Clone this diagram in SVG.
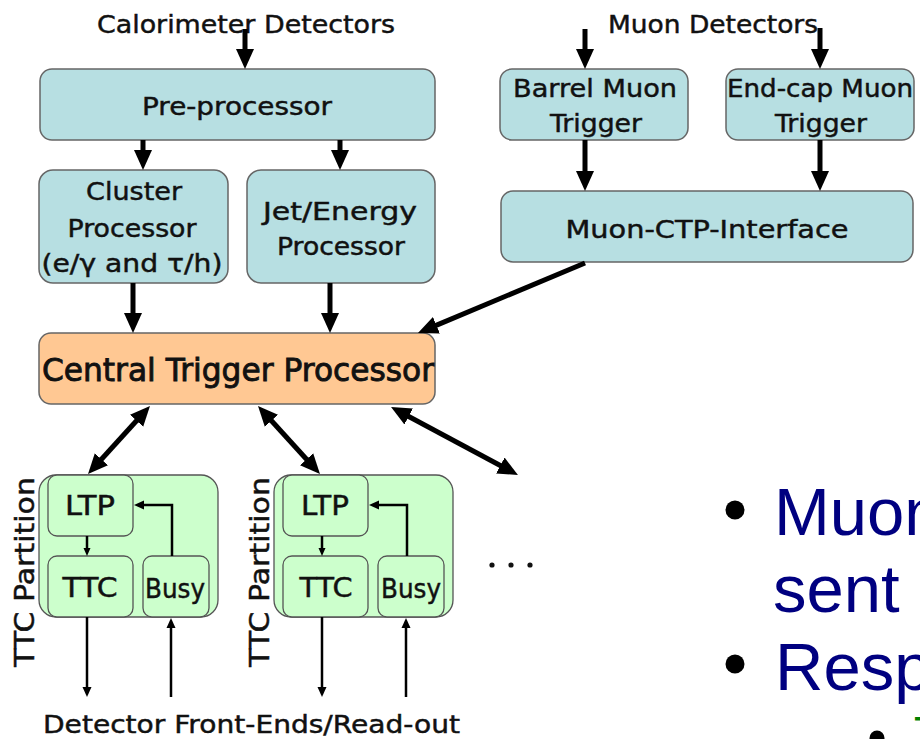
<svg xmlns="http://www.w3.org/2000/svg" width="920" height="739" viewBox="0 0 920 739">
  <style>
    .lbl { font-family: "DejaVu Sans", "Liberation Sans", sans-serif; font-size: 24px; fill: #111; stroke: #111; stroke-width: 0.45px; text-anchor: middle; }
    .big { font-size: 32px; stroke-width: 0.9px; }
    .ttc { font-size: 26px; }
    .blue { fill: #b7dfe2; stroke: #666; stroke-width: 1.5; }
    .orange { fill: #ffc893; stroke: #666; stroke-width: 1.5; }
    .green { fill: #ccffcc; stroke: #555; stroke-width: 1.3; }
    .thick { stroke: #000; stroke-width: 5; fill: none; }
    .thin { stroke: #000; stroke-width: 2.5; fill: none; }
    .bullet { font-family: "Liberation Sans", Arial, sans-serif; font-size: 67px; fill: #000080; }
  </style>
  <defs>
    <marker id="headBig" markerUnits="userSpaceOnUse" markerWidth="20" markerHeight="20" viewBox="0 0 20 20" refX="1" refY="10" orient="auto-start-reverse">
      <path d="M0,1 L20,10 L0,19 z" fill="#000"/>
    </marker>
    <marker id="headThin" markerUnits="userSpaceOnUse" markerWidth="10" markerHeight="10" viewBox="0 0 10 10" refX="0" refY="5" orient="auto">
      <path d="M0,0.5 L10,5 L0,9.5 z" fill="#000"/>
    </marker>
    <marker id="headTiny" markerUnits="userSpaceOnUse" markerWidth="8" markerHeight="8" viewBox="0 0 8 8" refX="0" refY="4" orient="auto">
      <path d="M0,0.5 L8,4 L0,7.5 z" fill="#000"/>
    </marker>
  </defs>

  <!-- source labels -->
  <text class="lbl" x="246" y="33" textLength="298" lengthAdjust="spacingAndGlyphs">Calorimeter Detectors</text>
  <text class="lbl" x="713" y="33" textLength="210" lengthAdjust="spacingAndGlyphs">Muon Detectors</text>

  <g id="preprocessor">
    <rect class="blue" x="40" y="69" width="395" height="71" rx="12"/>
    <text class="lbl" x="237" y="115" textLength="190" lengthAdjust="spacingAndGlyphs">Pre-processor</text>
  </g>
  <g id="barrel-muon">
    <rect class="blue" x="500" y="69" width="188" height="71" rx="12"/>
    <text class="lbl" x="595" y="97" textLength="164" lengthAdjust="spacingAndGlyphs">Barrel Muon</text>
    <text class="lbl" x="596" y="132" textLength="92" lengthAdjust="spacingAndGlyphs">Trigger</text>
  </g>
  <g id="endcap-muon">
    <rect class="blue" x="726" y="69" width="188" height="71" rx="12"/>
    <text class="lbl" x="820" y="97" textLength="186" lengthAdjust="spacingAndGlyphs">End-cap Muon</text>
    <text class="lbl" x="821" y="132" textLength="92" lengthAdjust="spacingAndGlyphs">Trigger</text>
  </g>
  <g id="cluster">
    <rect class="blue" x="39" y="170" width="189" height="113" rx="14"/>
    <text class="lbl" x="134" y="200" textLength="96" lengthAdjust="spacingAndGlyphs">Cluster</text>
    <text class="lbl" x="132" y="237" textLength="129" lengthAdjust="spacingAndGlyphs">Processor</text>
    <text class="lbl" x="132" y="272" textLength="181" lengthAdjust="spacingAndGlyphs">(e/γ and τ/h)</text>
  </g>
  <g id="jet-energy">
    <rect class="blue" x="247" y="170" width="188" height="113" rx="14"/>
    <text class="lbl" x="340" y="220" textLength="154" lengthAdjust="spacingAndGlyphs">Jet/Energy</text>
    <text class="lbl" x="341" y="255" textLength="128" lengthAdjust="spacingAndGlyphs">Processor</text>
  </g>
  <g id="muon-ctp-interface">
    <rect class="blue" x="501" y="191" width="412" height="71" rx="12"/>
    <text class="lbl" x="707" y="238" textLength="283" lengthAdjust="spacingAndGlyphs">Muon-CTP-Interface</text>
  </g>
  <g id="ctp">
    <rect class="orange" x="39" y="333" width="396" height="71" rx="12"/>
    <text class="lbl big" x="238" y="381" textLength="392" lengthAdjust="spacingAndGlyphs">Central Trigger Processor</text>
  </g>

  <g id="partition-1">
    <rect class="green" x="39" y="475" width="179" height="142" rx="17"/>
    <rect class="green" x="48" y="475" width="85" height="61" rx="9"/>
    <rect class="green" x="48" y="556" width="85" height="61" rx="9"/>
    <rect class="green" x="143" y="556" width="66" height="61" rx="9"/>
    <text class="lbl ttc" x="90" y="515" textLength="50" lengthAdjust="spacingAndGlyphs">LTP</text>
    <text class="lbl ttc" x="90" y="597" textLength="55" lengthAdjust="spacingAndGlyphs">TTC</text>
    <text class="lbl ttc" x="175" y="598" textLength="60" lengthAdjust="spacingAndGlyphs" font-size="28">Busy</text>
    <text class="lbl ttc" transform="translate(34,572) rotate(-90)" textLength="190" lengthAdjust="spacingAndGlyphs">TTC Partition</text>
  </g>
  <g id="partition-2">
    <rect class="green" x="274" y="475" width="179" height="142" rx="17"/>
    <rect class="green" x="283" y="475" width="85" height="61" rx="9"/>
    <rect class="green" x="283" y="556" width="85" height="61" rx="9"/>
    <rect class="green" x="378" y="556" width="66" height="61" rx="9"/>
    <text class="lbl ttc" x="325" y="515" textLength="48" lengthAdjust="spacingAndGlyphs">LTP</text>
    <text class="lbl ttc" x="326" y="597" textLength="53" lengthAdjust="spacingAndGlyphs">TTC</text>
    <text class="lbl ttc" x="411" y="598" textLength="60" lengthAdjust="spacingAndGlyphs" font-size="28">Busy</text>
    <text class="lbl ttc" transform="translate(269,572) rotate(-90)" textLength="190" lengthAdjust="spacingAndGlyphs">TTC Partition</text>
  </g>

  <g id="more-partitions" fill="#111">
    <circle cx="492" cy="565" r="2.6"/>
    <circle cx="511" cy="565" r="2.6"/>
    <circle cx="530" cy="565" r="2.6"/>
  </g>

  <text class="lbl" x="251.5" y="733" textLength="417" lengthAdjust="spacingAndGlyphs">Detector Front-Ends/Read-out</text>

  <g id="connectors">
    <!-- detector inputs -->
    <line class="thick" x1="245" y1="29" x2="245" y2="50" marker-end="url(#headBig)"/>
    <line class="thick" x1="585" y1="29" x2="585" y2="50" marker-end="url(#headBig)"/>
    <line class="thick" x1="820" y1="28" x2="820" y2="50" marker-end="url(#headBig)"/>
    <!-- calorimeter chain -->
    <line class="thick" x1="143" y1="140" x2="143" y2="151" marker-end="url(#headBig)"/>
    <line class="thick" x1="340" y1="140" x2="340" y2="151" marker-end="url(#headBig)"/>
    <line class="thick" x1="133" y1="283" x2="133" y2="314" marker-end="url(#headBig)"/>
    <line class="thick" x1="330" y1="283" x2="330" y2="314" marker-end="url(#headBig)"/>
    <!-- muon chain -->
    <line class="thick" x1="585" y1="140" x2="585" y2="172" marker-end="url(#headBig)"/>
    <line class="thick" x1="820" y1="140" x2="820" y2="172" marker-end="url(#headBig)"/>
    <line class="thick" x1="585" y1="263" x2="435.5" y2="325.6" marker-end="url(#headBig)"/>
    <!-- CTP to partitions -->
    <line class="thick" x1="137.2" y1="420" x2="100.8" y2="460" marker-start="url(#headBig)" marker-end="url(#headBig)"/>
    <line class="thick" x1="270.8" y1="420" x2="307.2" y2="460" marker-start="url(#headBig)" marker-end="url(#headBig)"/>
    <line class="thick" x1="407.8" y1="416" x2="501.2" y2="466" marker-start="url(#headBig)" marker-end="url(#headBig)"/>
    <!-- partition 1 internals -->
    <line class="thin" x1="87" y1="536" x2="87" y2="548" stroke-width="2" marker-end="url(#headTiny)"/>
    <path class="thin" d="M172,556 V505 H144" marker-end="url(#headThin)"/>
    <line class="thin" x1="87" y1="617" x2="87" y2="687" marker-end="url(#headThin)"/>
    <line class="thin" x1="171" y1="697" x2="171" y2="628" marker-end="url(#headThin)"/>
    <!-- partition 2 internals -->
    <line class="thin" x1="322" y1="536" x2="322" y2="548" stroke-width="2" marker-end="url(#headTiny)"/>
    <path class="thin" d="M407,556 V505 H379" marker-end="url(#headThin)"/>
    <line class="thin" x1="322" y1="617" x2="322" y2="687" marker-end="url(#headThin)"/>
    <line class="thin" x1="406" y1="697" x2="406" y2="628" marker-end="url(#headThin)"/>
  </g>

  <!-- bullet text beside the diagram -->
  <g id="notes">
    <circle cx="735" cy="510" r="9.5" fill="#000"/>
    <text class="bullet" x="774" y="535">Muon</text>
    <text class="bullet" x="773" y="612">sent</text>
    <circle cx="735" cy="664" r="9.5" fill="#000"/>
    <text class="bullet" x="775" y="690">Resp</text>
    <circle cx="877" cy="738" r="7.5" fill="#000"/>
    <text x="914" y="748" font-family="Liberation Sans, Arial, sans-serif" font-size="44" fill="#008000">T</text>
  </g>
</svg>
